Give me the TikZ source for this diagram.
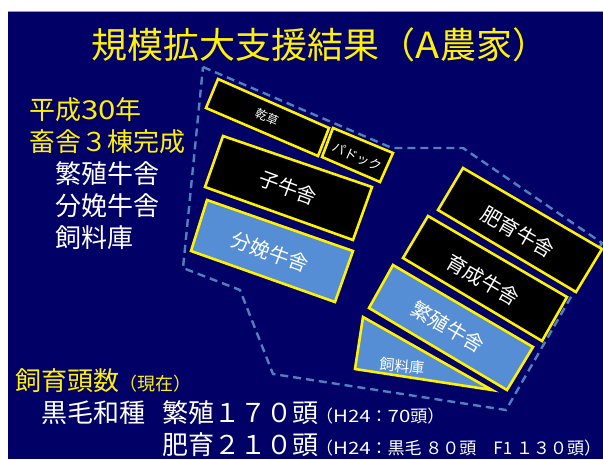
\documentclass[tikz,border=0pt]{standalone}
\usepackage{fontspec}
\setmainfont{Noto Sans CJK JP}
\definecolor{navy}{RGB}{0,0,102}
\definecolor{bblue}{RGB}{85,142,213}
\definecolor{dline}{RGB}{79,129,189}
\begin{document}
\begin{tikzpicture}[x=1pt,y=-1pt,
  fs/.style={font=\fontsize{#1}{#1}\selectfont},
  bld/.style={draw=yellow,line width=2.6pt},
  blk/.style={bld,fill=black},
  blu/.style={bld,fill=bblue},
  ylw/.style={text=yellow,inner sep=0pt},
  wht/.style={text=white,inner sep=0pt},
  lbl/.style={text=white,inner sep=0pt}]
\useasboundingbox (0,0) rectangle (603,459);
\fill[white] (0,0) rectangle (603,459);
\fill[navy] (8,11) rectangle (603,459);
\draw[black!40, line width=1pt] (8,11.5) -- (603,11.5);
% site outline
\draw[dline, line width=2.4pt, dash pattern=on 8pt off 5pt]
  (203,67) -- (392,148) -- (463,148) -- (602,243) -- (506,410) -- (273,374)
  -- (240,290) -- (183,268) -- cycle;
% buildings
\draw[blk] (218,79) -- (329,128) -- (318,156) -- (206,108) -- cycle;
\draw[blk] (333,128) -- (393,153) -- (380,182) -- (322,157) -- cycle;
\draw[blk] (223,136) -- (372,187) -- (353,240) -- (205,187) -- cycle;
\draw[blu] (207,200) -- (353,251) -- (335,302) -- (191,251) -- cycle;
\draw[blk] (463,168) -- (602,249) -- (576,292) -- (438,210) -- cycle;
\draw[blk] (428,216) -- (567,297) -- (542,341) -- (403,258) -- cycle;
\draw[blu] (393,265) -- (533,347) -- (507,390) -- (369,308) -- cycle;
\draw[blu] (363,317) -- (492,390) -- (355,369) -- cycle;
% building labels
\node[lbl,fs=12,rotate=-23] (kanso) at (267,117) {乾草};
\node[lbl,fs=13,rotate=-24] (padd) at (357,157) {パドック};
\node[lbl,fs=20,rotate=-20] (koushi) at (288,188) {子牛舎};
\node[lbl,fs=20,rotate=-20] (bunben) at (270,252) {分娩牛舎};
\node[lbl,fs=20,rotate=-30] (hiiku) at (518,232) {肥育牛舎};
\node[lbl,fs=20,rotate=-30] (ikusei) at (483,280) {育成牛舎};
\node[lbl,fs=20,rotate=-30] (hansyoku) at (448,327) {繁殖牛舎};
\node[lbl,fs=15,rotate=-5] (shiryo) at (402,366) {飼料庫};
% title
\node[ylw,fs=36,anchor=base] (title) at (320,58) {規模拡大支援結果（\scalebox{1.1}[1]{A}農家）};
% left block
\node[ylw,fs=26,anchor=base west] (h30) at (29,119) {平成\scalebox{1.2}[1]{30}年};
\node[ylw,fs=26,anchor=base west] (chiku) at (29,151) {畜舎３棟完成};
\node[wht,fs=26,anchor=base west] (l1) at (55,183) {繁殖牛舎};
\node[wht,fs=26,anchor=base west] (l2) at (55,215) {分娩牛舎};
\node[wht,fs=26,anchor=base west] (l3) at (55,247) {飼料庫};
% bottom block
\node[ylw,fs=26,anchor=base west] (toosu) at (15,390) {飼育頭数{\fontsize{18}{18}\selectfont（現在）}};
\node[wht,fs=26,anchor=base east] (b1) at (319,422) {黒毛和種\hspace{0.65em}繁殖１７０頭};
\node[wht,fs=17,anchor=base west] (b1s) at (316,422) {（\scalebox{1.2}[1]{H24}：\scalebox{1.2}[1]{70}頭）};
\node[wht,fs=26,anchor=base east] (b2) at (319,454) {肥育２１０頭};
\node[wht,fs=17,anchor=base west] (b2s) at (316,454) {（\scalebox{1.2}[1]{H24}：黒毛 ８０頭　F1 １３０頭）};
\end{tikzpicture}
\end{document}
